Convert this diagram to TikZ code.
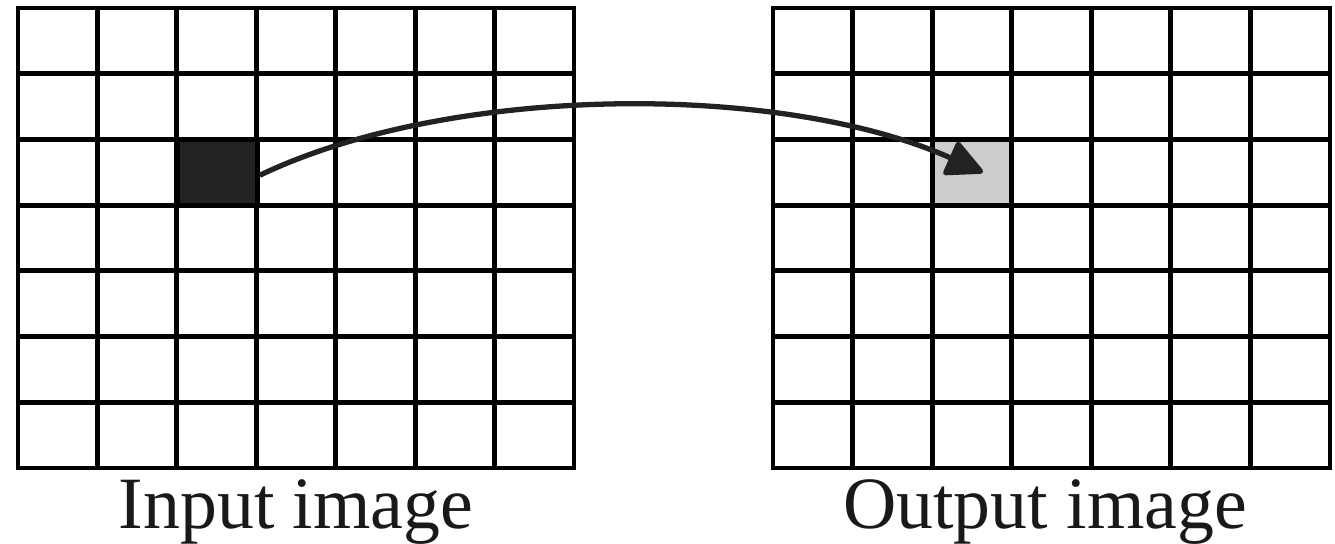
\documentclass[tikz,border=0pt]{standalone}
\usepackage{fontspec}
\setmainfont{Liberation Serif}
\usetikzlibrary{arrows.meta,calc}

\definecolor{cellblack}{HTML}{222222}
\definecolor{cellgray}{HTML}{CCCCCC}
\tikzset{
  gridline/.style={line width=2.7pt, line cap=rect},
  pixel/.style={draw, line width=2.7pt, minimum width=1.59cm, minimum height=1.314cm, inner sep=0pt},
  caption/.style={anchor=base, font=\fontsize{42}{46}\selectfont, text=black!90},
  maparrow/.style={line width=3pt, draw=cellblack, -{Triangle[length=0.8cm, width=0.76cm, round]}}
}

\begin{document}
\begin{tikzpicture}[x=0.02cm, y=-0.02cm]
  \useasboundingbox (0,0) rectangle (1335,544);

  % ---------- input image (7x7) ----------
  \foreach \i in {0,...,7} {
    \draw[gridline] ({18+\i*79.43},8) -- ({18+\i*79.43},468);
    \draw[gridline] (18,{8+\i*65.71}) -- (574,{8+\i*65.71});
  }
  \node[pixel, fill=cellblack] (src) at (217.6,172.3) {};
  \node[caption] (inlabel) at (296,528) {Input image};

  % ---------- output image (7x7) ----------
  \foreach \i in {0,...,7} {
    \draw[gridline] ({773+\i*79.57},8) -- ({773+\i*79.57},468);
    \draw[gridline] (773,{8+\i*65.71}) -- (1330,{8+\i*65.71});
  }
  \node[pixel, fill=cellgray] (dst) at (971.9,172.3) {};
  \node[caption] (outlabel) at (1045,528) {Output image};

  % ---------- mapping ----------
  \coordinate (tip) at ($(dst.center)+(11,0)$);
  \draw[maparrow] ([yshift=-0.06cm]src.east) .. controls (450,84) and (780,82) .. (tip);

\end{tikzpicture}
\end{document}
